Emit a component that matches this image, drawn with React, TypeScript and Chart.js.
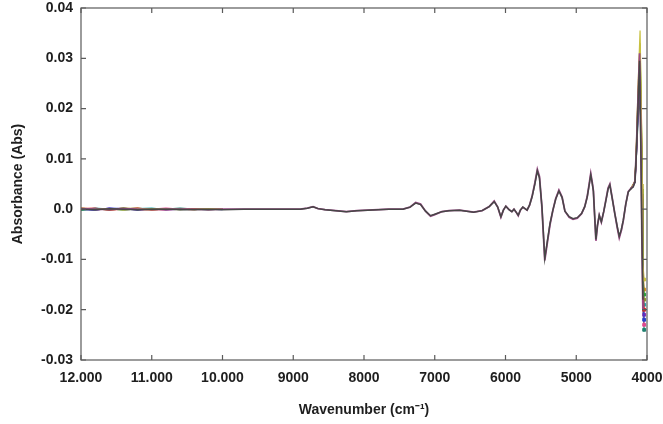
import React, { useEffect, useRef } from "react";
import { Chart, registerables } from "chart.js";
Chart.register(...registerables);

// Shared wavenumber grid (cm-1) for the overlapping spectra
const wavenumbers = [
  12000, 11800, 11600, 11400, 11200, 11000, 10800, 10500, 10200, 10000,
  9700, 9400, 9100, 8900, 8800, 8720, 8650, 8550, 8400, 8250,
  8100, 7950, 7800, 7650, 7450, 7350, 7270, 7200, 7130, 7060,
  7000, 6900, 6800, 6650, 6550, 6450, 6330, 6230, 6160, 6110,
  6065, 6030, 5995, 5950, 5910, 5880, 5850, 5820, 5790, 5755,
  5725, 5695, 5660, 5625, 5585, 5550, 5520, 5485, 5445, 5410,
  5370, 5330, 5290, 5245, 5200, 5160, 5100, 5045, 4985, 4925,
  4880, 4845, 4815, 4795, 4775, 4758, 4740, 4722, 4700, 4675,
  4645, 4612, 4580, 4550, 4525, 4490, 4455, 4420, 4392, 4362,
  4335, 4300, 4265, 4230, 4195, 4170, 4150, 4128, 4105, 4090,
  4072, 4058,
];

const spectrumA = [
  0.0, -0.0001, 0.0001, 0.0, -0.0001, 0.0, 0.0, -0.0001, 0.0, -0.0001,
  0.0, 0.0, 0.0, 0.0, 0.0002, 0.00045, 0.0001, -0.0001, -0.0003, -0.0005,
  -0.0003, -0.0002, -0.0001, 0.0, 0.0, 0.0004, 0.0012, 0.0009, -0.0004, -0.0013,
  -0.001, -0.0005, -0.0003, -0.0002, -0.0004, -0.0006, -0.0003, 0.0005, 0.0015, 0.0004,
  -0.0015, -0.0002, 0.0006, -0.0001, -0.0005, 0.0, -0.0006, -0.0012, -0.0002, 0.0004,
  0.0001, -0.0002, 0.0008, 0.0024, 0.005, 0.0076, 0.0062, 0.0005, -0.0098, -0.0065,
  -0.0028, -0.0002, 0.002, 0.0036, 0.0023, -0.0004, -0.0015, -0.0019, -0.0017, -0.0009,
  0.0005, 0.0024, 0.005, 0.0068, 0.0052, 0.0036, -0.0012, -0.006, -0.0032, -0.0012,
  -0.0025, -0.0005, 0.0018, 0.004, 0.0048, 0.002, -0.0009, -0.0035, -0.0054, -0.004,
  -0.0022, 0.001, 0.0034, 0.004, 0.0044, 0.0054, 0.011, 0.02, 0.0295, 0.015,
  -0.005, -0.018,
];

const spectrumB = [
  0.0001, 0.0, -0.0001, 0.0001, 0.0, -0.0001, 0.0, 0.0, -0.0001, 0.0,
  0.0, 0.0, 0.0, 0.0, 0.0002, 0.0005, 0.0001, -0.0001, -0.0003, -0.0005,
  -0.0003, -0.0002, -0.0001, 0.0, 0.0, 0.0004, 0.0013, 0.001, -0.0004, -0.0014,
  -0.0011, -0.0005, -0.0003, -0.0002, -0.0004, -0.0006, -0.0003, 0.0005, 0.0016, 0.0004,
  -0.0016, -0.0002, 0.0006, -0.0001, -0.0005, 0.0, -0.0006, -0.0013, -0.0002, 0.0004,
  0.0001, -0.0002, 0.0008, 0.0025, 0.0052, 0.0079, 0.0065, 0.0003, -0.0102, -0.0068,
  -0.003, -0.0002, 0.0021, 0.0038, 0.0024, -0.0004, -0.0016, -0.002, -0.0018, -0.0009,
  0.0005, 0.0025, 0.0052, 0.0071, 0.0054, 0.0037, -0.0013, -0.0063, -0.0033, -0.0012,
  -0.0026, -0.0005, 0.0019, 0.0042, 0.005, 0.0021, -0.0009, -0.0037, -0.0057, -0.0042,
  -0.0023, 0.001, 0.0035, 0.0041, 0.0046, 0.0056, 0.0118, 0.0215, 0.031, 0.018,
  -0.006, -0.02,
];

// Individual samples: noisy start and the steep band near 4100 cm-1
const noiseWavenumbers = [12000, 11800, 11600, 11400, 11200, 11000, 10800, 10600, 10400, 10200, 10000];
const spikeWavenumbers = [4230, 4170, 4150, 4125, 4098, 4082, 4066, 4058, 4040];

const sampleColors = [
  "#c8c040", "#2e9a3a", "#d02828", "#2840c8", "#e08a20",
  "#20a8b0", "#8a2ab0", "#8a9a20", "#e04890", "#208070",
];

const sampleNoise = [
  [0.0002, -0.0001, 0.0001, -0.0002, 0.0001, 0.0, 0.0001, -0.0001, 0.0, 0.0001, 0.0],
  [-0.0002, 0.0001, -0.0001, 0.0002, -0.0001, 0.0001, 0.0, 0.0001, -0.0001, 0.0, 0.0],
  [0.0001, 0.0002, -0.0002, 0.0, 0.0002, -0.0001, -0.0001, 0.0, 0.0001, -0.0001, 0.0],
  [-0.0001, -0.0002, 0.0002, 0.0001, -0.0002, 0.0001, 0.0001, -0.0001, 0.0, 0.0, -0.0001],
  [0.0002, 0.0, -0.0001, 0.0002, 0.0, -0.0002, 0.0001, 0.0, -0.0001, 0.0001, 0.0],
  [-0.0002, 0.0002, 0.0, -0.0001, 0.0001, 0.0002, -0.0001, 0.0001, 0.0, -0.0001, 0.0],
  [0.0001, -0.0002, 0.0002, -0.0001, 0.0, 0.0001, -0.0002, 0.0, 0.0001, 0.0, 0.0001],
  [0.0, 0.0001, -0.0002, 0.0001, 0.0002, -0.0001, 0.0, -0.0001, 0.0001, 0.0, 0.0],
  [0.0002, -0.0001, 0.0, 0.0002, -0.0002, 0.0, 0.0002, 0.0, -0.0001, 0.0001, 0.0],
  [-0.0001, 0.0001, 0.0001, -0.0002, 0.0001, -0.0001, 0.0, 0.0002, 0.0, -0.0001, 0.0],
];

const sampleSpike = [
  [0.004, 0.0056, 0.013, 0.025, 0.0355, 0.022, 0.005, -0.011, -0.014],
  [0.004, 0.0055, 0.012, 0.023, 0.031, 0.02, 0.004, -0.013, -0.017],
  [0.004, 0.0055, 0.0115, 0.022, 0.029, 0.018, 0.003, -0.015, -0.02],
  [0.004, 0.0054, 0.011, 0.02, 0.026, 0.016, 0.002, -0.017, -0.022],
  [0.004, 0.0055, 0.012, 0.023, 0.03, 0.019, 0.004, -0.012, -0.016],
  [0.004, 0.0054, 0.0115, 0.021, 0.028, 0.017, 0.003, -0.016, -0.019],
  [0.004, 0.0053, 0.0105, 0.019, 0.024, 0.015, 0.002, -0.018, -0.021],
  [0.004, 0.0056, 0.0125, 0.024, 0.033, 0.021, 0.005, -0.014, -0.018],
  [0.004, 0.0054, 0.011, 0.021, 0.027, 0.017, 0.003, -0.019, -0.023],
  [0.004, 0.0053, 0.0105, 0.018, 0.022, 0.014, 0.001, -0.02, -0.024],
];

const xTickValues = [12000, 11000, 10000, 9000, 8000, 7000, 6000, 5000, 4000];
const xTickLabels = ["12.000", "11.000", "10.000", "9000", "8000", "7000", "6000", "5000", "4000"];
const yTickValues = [0.04, 0.03, 0.02, 0.01, 0, -0.01, -0.02, -0.03];
const yTickLabels = ["0.04", "0.03", "0.02", "0.01", "0.0", "-0.01", "-0.02", "-0.03"];

const FONT = "'Liberation Sans', Arial, sans-serif";

const framePlugin = {
  id: "frame",
  afterDatasetsDraw(chart: any) {
    const { ctx, chartArea, scales } = chart;
    const { left, right, top, bottom } = chartArea;
    ctx.save();
    ctx.strokeStyle = "#5a5a5a";
    ctx.lineWidth = 1.2;
    ctx.strokeRect(left, top, right - left, bottom - top);
    const len = 5;
    ctx.beginPath();
    xTickValues.forEach((v) => {
      const px = scales.x.getPixelForValue(v);
      ctx.moveTo(px, bottom);
      ctx.lineTo(px, bottom - len);
      ctx.moveTo(px, top);
      ctx.lineTo(px, top + len);
    });
    yTickValues.forEach((v) => {
      const py = scales.y.getPixelForValue(v);
      ctx.moveTo(left, py);
      ctx.lineTo(left + len, py);
      ctx.moveTo(right, py);
      ctx.lineTo(right - len, py);
    });
    ctx.stroke();
    ctx.restore();
  },
};

export default function App() {
  const canvasRef = useRef<HTMLCanvasElement | null>(null);

  useEffect(() => {
    document.body.style.margin = "0";
    const canvas = canvasRef.current;
    if (!canvas) return;

    const datasets: any[] = [];
    // gray spectrum on top (order 0), magenta below it, samples underneath
    datasets.push({
      data: wavenumbers.map((w, i) => ({ x: w, y: spectrumA[i] })),
      borderColor: "#474747",
      borderWidth: 1.5,
      pointRadius: 0,
      tension: 0,
      order: 0,
    });
    datasets.push({
      data: wavenumbers.map((w, i) => ({ x: w, y: spectrumB[i] })),
      borderColor: "#9a4a86",
      borderWidth: 1.8,
      pointRadius: 0,
      tension: 0,
      order: 1,
    });
    sampleColors.forEach((color, i) => {
      const pts: any[] = noiseWavenumbers.map((w, j) => ({ x: w, y: sampleNoise[i][j] }));
      pts.push({ x: 9999, y: null });
      spikeWavenumbers.forEach((w, j) => pts.push({ x: w, y: sampleSpike[i][j] }));
      const lastIdx = pts.length - 1;
      datasets.push({
        data: pts,
        borderColor: color,
        backgroundColor: color,
        borderWidth: 1.2,
        pointStyle: "rect",
        pointRadius: (c: any) => (c.dataIndex === lastIdx ? 2 : 0),
        pointBorderWidth: 1,
        spanGaps: false,
        tension: 0,
        order: 2 + i,
      });
    });

    const chart = new Chart(canvas, {
      type: "line",
      data: { datasets },
      options: {
        animation: false,
        responsive: false,
        devicePixelRatio: 1,
        layout: { padding: { top: 0, right: 0, left: 0, bottom: 0 } },
        plugins: { legend: { display: false }, tooltip: { enabled: false } },
        scales: {
          x: {
            type: "linear",
            reverse: true,
            min: 4000,
            max: 12000,
            grid: { display: false, drawTicks: false },
            border: { display: false },
            afterBuildTicks: (s: any) => {
              s.ticks = xTickValues.map((v) => ({ value: v }));
            },
            afterFit: (s: any) => {
              s.height = 64;
              s.paddingLeft = 0;
              s.paddingRight = 16;
            },
            ticks: {
              padding: 10,
              maxRotation: 0,
              autoSkip: false,
              color: "#1e1e1e",
              font: { family: FONT, size: 14, weight: "bold" },
              callback: (v: any) => {
                const i = xTickValues.indexOf(Number(v));
                return i >= 0 ? xTickLabels[i] : "";
              },
            },
            title: {
              display: true,
              text: "Wavenumber (cm\u207B\u00B9)",
              color: "#1e1e1e",
              font: { family: FONT, size: 14, weight: "bold" },
              padding: { top: 0, bottom: 5 },
            },
          },
          y: {
            type: "linear",
            min: -0.03,
            max: 0.04,
            grid: { display: false, drawTicks: false },
            border: { display: false },
            afterBuildTicks: (s: any) => {
              s.ticks = yTickValues.map((v) => ({ value: v }));
            },
            afterFit: (s: any) => {
              s.width = 81;
              s.paddingTop = 8;
              s.paddingBottom = 0;
            },
            ticks: {
              padding: 8,
              autoSkip: false,
              color: "#1e1e1e",
              font: { family: FONT, size: 14, weight: "bold" },
              callback: (v: any) => {
                const i = yTickValues.findIndex((t) => Math.abs(t - Number(v)) < 1e-9);
                return i >= 0 ? yTickLabels[i] : "";
              },
            },
            title: {
              display: true,
              text: "Absorbance (Abs)",
              color: "#1e1e1e",
              font: { family: FONT, size: 14, weight: "bold" },
              padding: { top: 10, bottom: 0 },
            },
          },
        },
      },
      plugins: [framePlugin],
    });

    return () => chart.destroy();
  }, []);

  return (
    <div style={{ width: 663, height: 424 }}>
      <canvas ref={canvasRef} width={663} height={424} style={{ width: 663, height: 424, display: "block" }} />
    </div>
  );
}
